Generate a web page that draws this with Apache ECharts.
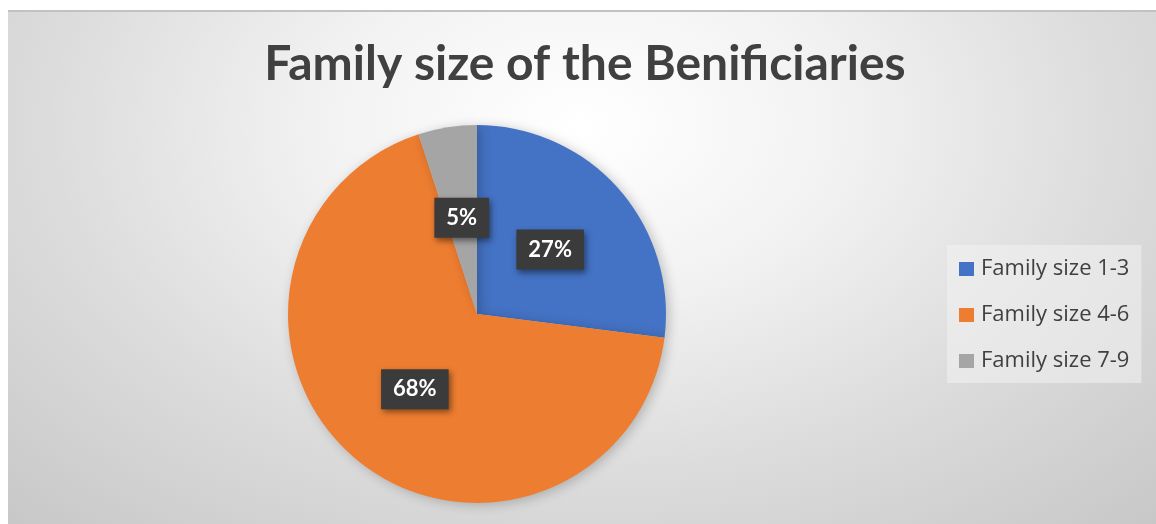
<!DOCTYPE html>
<html>
<head>
<meta charset="utf-8">
<script src="https://cdn.jsdelivr.net/npm/echarts@6/dist/echarts.min.js"></script>
<style>
  html, body { margin: 0; padding: 0; background: #ffffff; }
  #frame {
    position: absolute; left: 8px; top: 10px; width: 1148px; height: 514px;
    box-sizing: border-box; border-top: 2px solid #c2c2c2;
    background: radial-gradient(ellipse 75% 110% at 50% 22%, #ffffff 0%, #f2f2f2 30%, #dcdcdc 62%, #c6c6c6 100%);
  }
  #chart { position: absolute; left: 0; top: -2px; width: 1148px; height: 514px; }
</style>
</head>
<body>
<div id="frame"><div id="chart"></div></div>
<script>
// Family-size groups and their shares of beneficiaries (%)
const categories = ['Family size 1-3', 'Family size 4-6', 'Family size 7-9'];
const shares = [27, 68, 5];
const colors = ['#4472C4', '#ED7D31', '#A5A5A5'];
const titleText = 'Family size of the Benificiaries';

const chart = echarts.init(document.getElementById('chart'), null, { renderer: 'canvas' });

const pieData = categories.map((name, i) => ({
  name: name,
  value: shares[i],
  itemStyle: { color: colors[i] }
}));

chart.setOption({
  backgroundColor: 'transparent',
  title: {
    text: titleText,
    left: 572,
    top: 26,
    textAlign: 'center',
    textStyle: {
      fontFamily: 'Lato',
      fontWeight: 'bold',
      fontSize: 48,
      color: '#404040'
    }
  },
  legend: {
    orient: 'vertical',
    left: 939,
    top: 235,
    padding: [13, 12, 11, 12],
    backgroundColor: 'rgba(242,242,242,0.55)',
    itemWidth: 15,
    itemHeight: 14,
    itemGap: 24,
    icon: 'rect',
    data: categories,
    textStyle: {
      fontFamily: 'Open Sans',
      fontSize: 22,
      lineHeight: 22,
      color: '#404040',
      padding: [0, 0, 0, 2]
    }
  },
  series: [{
    type: 'pie',
    center: [469, 304],
    radius: 189,
    startAngle: 90,
    clockwise: true,
    percentPrecision: 0,
    data: pieData,
    itemStyle: {
      borderWidth: 0,
      shadowBlur: 12,
      shadowOffsetX: 3,
      shadowOffsetY: 2,
      shadowColor: 'rgba(0,0,0,0.22)'
    },
    label: {
      show: true,
      position: 'inside',
      formatter: '{d}%',
      fontFamily: 'Lato',
      fontWeight: 'bold',
      fontSize: 22,
      color: '#ffffff',
      backgroundColor: '#3b3b3b',
      padding: [9, 12, 9, 12],
      shadowBlur: 6,
      shadowOffsetX: 2,
      shadowOffsetY: 3,
      shadowColor: 'rgba(0,0,0,0.45)'
    },
    labelLine: { show: false },
    emphasis: { disabled: true },
    animation: false
  }]
});
</script>
</body>
</html>
